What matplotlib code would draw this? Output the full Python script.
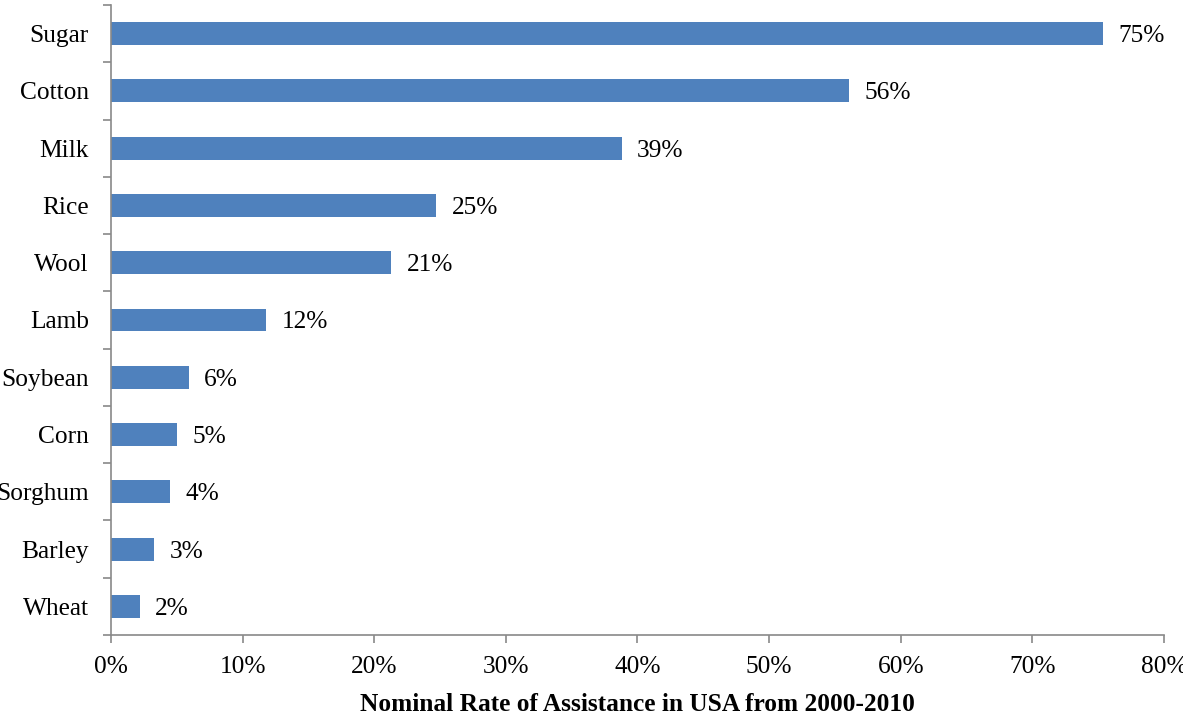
import matplotlib
matplotlib.use("Agg")
import matplotlib.pyplot as plt
from matplotlib.ticker import FixedLocator, PercentFormatter

categories = ["Sugar", "Cotton", "Milk", "Rice", "Wool", "Lamb", "Soybean",
              "Corn", "Sorghum", "Barley", "Wheat"]
values = [75.4, 56.1, 38.8, 24.7, 21.3, 11.8, 5.9, 5.0, 4.5, 3.3, 2.2]
labels = ["75%", "56%", "39%", "25%", "21%", "12%", "6%", "5%", "4%", "3%", "2%"]
xticks = [0, 10, 20, 30, 40, 50, 60, 70, 80]

plt.rcParams['font.family'] = ['Liberation Serif', 'DejaVu Serif']
fs = 18.3

fig = plt.figure(figsize=(11.83, 7.17), dpi=100)
ax = fig.add_axes([111/1183, 1 - 635/717, (1164 - 111)/1183, (635 - 5)/717])

n = len(categories)
ypos = list(range(n))[::-1]
ax.barh(ypos, values, height=0.4, color="#4F81BD", zorder=2)
for y, v, t in zip(ypos, values, labels):
    ax.annotate(t, (v, y), xytext=(11, 0), textcoords="offset points",
                va="center_baseline", ha="left", fontsize=fs)

ax.set_xlim(0, 80)
ax.set_ylim(-0.5, n - 0.5)
ax.set_xticks(xticks)
ax.xaxis.set_major_formatter(PercentFormatter(decimals=0))
ax.set_yticks(ypos)
ax.set_yticklabels(categories)
ax.yaxis.set_minor_locator(FixedLocator([i - 0.5 for i in range(n + 1)]))
ax.tick_params(axis="y", which="major", length=0, pad=16, labelsize=fs)
ax.tick_params(axis="y", which="minor", length=6, color="#898989", width=1.2, direction="out")
ax.tick_params(axis="x", length=6, color="#898989", width=1.2, direction="out", labelsize=fs, pad=9)

for s in ["top", "right"]:
    ax.spines[s].set_visible(False)
for s in ["left", "bottom"]:
    ax.spines[s].set_color("#898989")
    ax.spines[s].set_linewidth(1.2)

ax.set_xlabel("Nominal Rate of Assistance in USA from 2000-2010", fontsize=fs,
              fontweight="bold", labelpad=11)

fig.savefig("out.png", dpi=100)
